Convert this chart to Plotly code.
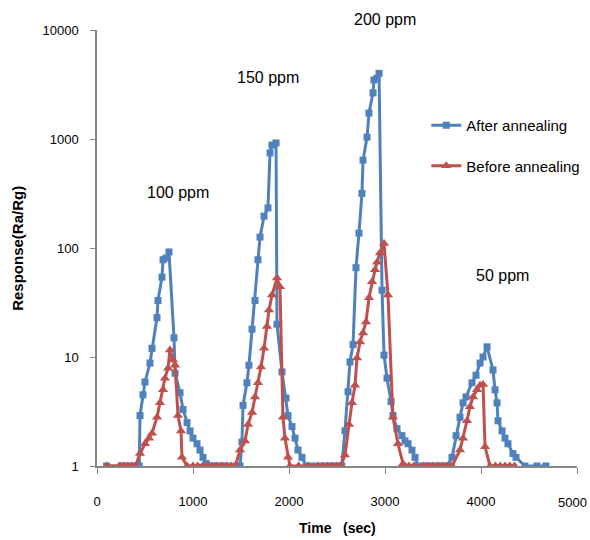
import plotly.graph_objects as go

after_t = [100, 250, 300, 350, 400, 440, 448, 479, 500, 552, 573, 625, 635, 677, 688, 719, 750,
           802, 813, 865, 896, 938, 969, 1000, 1042, 1073, 1104, 1140, 1200, 1250, 1300, 1350, 1400, 1450, 1490,
           1510, 1521, 1562, 1583, 1615, 1646, 1677, 1698, 1740, 1781, 1802, 1823, 1865,
           1875, 1927, 1969, 1990, 2031, 2063, 2094, 2135, 2180, 2250, 2320, 2390, 2450, 2500, 2550,
           2583, 2615, 2635, 2667, 2698, 2729, 2760, 2771, 2813, 2833, 2875, 2885, 2917, 2938,
           2969, 2990, 3021, 3063, 3083, 3125, 3177, 3208, 3240, 3281, 3313, 3344, 3400, 3450, 3500, 3550, 3600, 3650,
           3698, 3740, 3781, 3813, 3844, 3906, 3948, 3990, 4021, 4063,
           4125, 4146, 4167, 4177, 4219, 4250, 4281, 4333, 4365, 4458, 4583, 4677]
after_v = [1, 1, 1, 1, 1, 1, 2.9, 4.5, 5.9, 8.8, 12, 23, 33, 54, 78, 81, 92,
           15, 7.1, 4.7, 3.3, 2.5, 2.1, 1.8, 1.6, 1.4, 1.2, 1.05, 1, 1, 1, 1, 0.97, 1, 1,
           1.66, 3.6, 5.8, 8.4, 18, 33, 78, 126, 196, 233, 745, 880, 920,
           20, 7.3, 4.2, 2.9, 2.3, 1.8, 1.4, 1.2, 1, 1, 1, 1, 1, 1, 1,
           2.1, 4.8, 9, 13, 66, 137, 317, 640, 1040, 1730, 2650, 3480, 3620, 4000,
           41, 10.4, 6.4, 3.9, 2.9, 2.2, 1.9, 1.7, 1.6, 1.4, 1.2, 1, 1, 1, 1, 1, 1, 1,
           1.2, 1.9, 2.8, 3.8, 4.3, 5.8, 6.8, 8.8, 10, 12.4,
           7.6, 5.0, 3.8, 2.6, 2.1, 1.8, 1.6, 1.3, 1.2, 1, 1, 1]

before_t = [100, 240, 280, 320, 360, 400, 448, 500, 542, 573, 625, 656, 688, 708, 740, 760, 792, 813,
            844, 875, 885, 938, 1000, 1050, 1100, 1150, 1200, 1250, 1300, 1350, 1400, 1440,
            1490, 1542, 1573, 1615, 1646, 1677, 1708, 1740, 1771, 1792, 1823, 1875, 1906,
            1937, 1958, 1990, 2010, 2100, 2200, 2300, 2350, 2400, 2450, 2500, 2540,
            2583, 2625, 2656, 2688, 2708, 2740, 2771, 2802, 2833, 2865, 2896, 2917, 2948, 2990,
            3031, 3083, 3135, 3188, 3250, 3300, 3400, 3450, 3500, 3550, 3600, 3650, 3700,
            3781, 3813, 3854, 3885, 3917, 3958, 3990, 4021, 4042, 4094, 4150, 4200, 4250, 4300, 4350]
before_v = [1, 1, 1, 1, 1, 1, 1.3, 1.6, 1.8, 2.0, 2.8, 3.8, 5.0, 6.4, 7.9, 11.6, 9.4, 8.4,
            2.9, 2.1, 1.2, 1, 1, 1, 1, 1, 1, 1, 1, 1, 1, 1,
            1.4, 1.7, 2.4, 3.1, 4.3, 5.8, 8.1, 12, 19, 27, 37, 53, 44,
            2.8, 1.8, 1.2, 1, 1, 1, 1, 1, 1, 1, 1, 1,
            1.26, 2.4, 3.8, 5.5, 9.8, 13.7, 16.6, 21, 35, 49, 63, 74, 90, 110,
            37, 2.8, 1.6, 1.05, 1, 1, 1, 1, 1, 1, 1, 1, 1,
            1.4, 1.8, 2.6, 3.5, 4.3, 5.0, 5.5, 5.6, 1.5, 1, 1, 1, 1, 1, 1]

conc_labels = ["100 ppm", "150 ppm", "200 ppm", "50 ppm"]
conc_x = [844, 1781, 3000, 4219]
conc_y = [0.628, 0.892, 1.023, 0.436]

x_ticks = [0, 1000, 2000, 3000, 4000, 5000]
x_tick_text = ["0", "1000", "2000", "3000", "4000", ""]  # last label drawn as annotation so it stays inside the window
last_x_label = "5000"
y_ticks = [1, 10, 100, 1000, 10000]
y_tick_text = ["1", "10", "100", "1000", "10000"]

FONT = "Arial, Liberation Sans, sans-serif"
BLUE = "#4F81BD"
RED = "#C0504D"
AX = "#868686"

fig = go.Figure()
fig.add_trace(go.Scatter(x=after_t, y=after_v, mode="lines+markers", name="After annealing",
                         legendgroup="a",
                         line=dict(color=BLUE, width=3),
                         marker=dict(symbol="square", size=7, color=BLUE)))
fig.add_trace(go.Scatter(x=before_t, y=before_v, mode="lines+markers", name="Before annealing",
                         legendgroup="b",
                         line=dict(color=RED, width=3),
                         marker=dict(symbol="triangle-up", size=9, color=RED)))

for lab, xx, yy in zip(conc_labels, conc_x, conc_y):
    fig.add_annotation(text=lab, x=xx, y=yy, xref="x", yref="paper", showarrow=False,
                       xanchor="center", yanchor="middle",
                       font=dict(family=FONT, size=16, color="black"))

fig.add_annotation(text=last_x_label, x=x_ticks[-1], y=-0.0845, xref="x", yref="paper",
                   xanchor="right", yanchor="middle", xshift=11, showarrow=False, borderpad=0,
                   font=dict(family=FONT, size=13, color="black"))

fig.add_annotation(text="<b>Time\u00a0\u00a0\u00a0(sec)</b>", x=0.5, y=-0.142, xref="paper", yref="paper",
                   xanchor="center", yanchor="middle",
                   showarrow=False, font=dict(family=FONT, size=14, color="black"))
fig.add_annotation(text="<b>Response(Ra/Rg)</b>", x=-0.167, y=0.5, xref="paper", yref="paper",
                   xanchor="center", yanchor="middle",
                   showarrow=False, textangle=-90, font=dict(family=FONT, size=15, color="black"))

fig.update_layout(
    width=590, height=540,
    margin=dict(l=97, r=13, t=30, b=74, autoexpand=False),
    paper_bgcolor="white", plot_bgcolor="white",
    font=dict(family=FONT, size=13, color="black"),
    showlegend=True,
    legend=dict(x=0.686, y=0.819, xanchor="left", yanchor="top", bgcolor="rgba(0,0,0,0)",
                font=dict(family=FONT, size=15), traceorder="grouped", tracegroupgap=18,
                itemwidth=30),
    xaxis=dict(range=[0, 5000], tickvals=x_ticks, ticktext=x_tick_text, showgrid=False,
               zeroline=False, automargin=False,
               showline=True, linecolor=AX, linewidth=1.5, ticks="outside", tickcolor=AX,
               ticklen=6, ticklabelstandoff=17, ticklabeloverflow="allow", tickfont=dict(size=13)),
    yaxis=dict(type="log", range=[0, 4], tickvals=y_ticks, ticktext=y_tick_text, showgrid=False,
               zeroline=False, automargin=False,
               showline=True, linecolor=AX, linewidth=1.5, ticks="outside", tickcolor=AX,
               ticklen=5, ticklabelstandoff=9, ticklabeloverflow="allow", tickfont=dict(size=13)),
)

# remove the browser's default 8px body margin so the 590x540 figure fills the window exactly
fig.write_html("out.html", config={"displayModeBar": False},
               post_script="document.body.style.margin='0px';document.body.style.overflow='hidden';")
